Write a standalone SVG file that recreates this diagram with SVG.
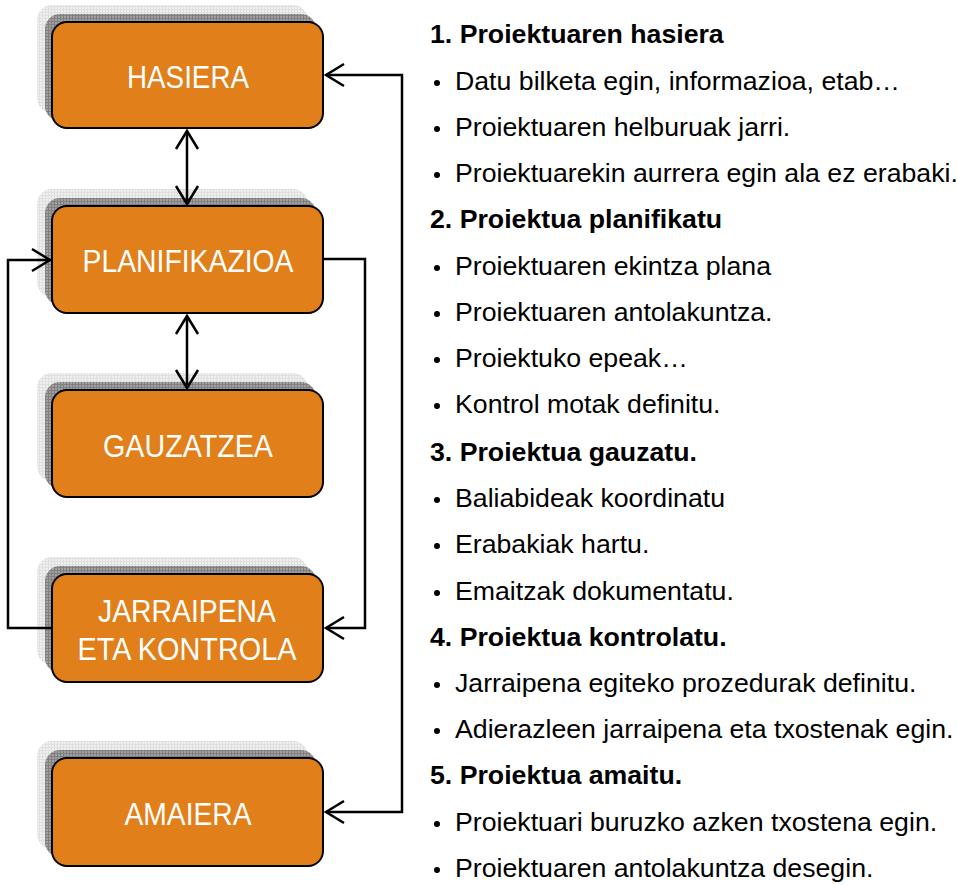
<svg xmlns="http://www.w3.org/2000/svg" width="957" height="885" viewBox="0 0 957 885">
<defs>
<pattern id="gridDark" width="3" height="3" patternUnits="userSpaceOnUse">
<rect width="3" height="3" fill="#a0a0a0"/>
<path d="M0,0.5H3M0.5,0V3" stroke="#808080" stroke-width="1"/>
</pattern>
<pattern id="gridLight" width="3" height="3" patternUnits="userSpaceOnUse">
<rect width="3" height="3" fill="#efefef"/>
<path d="M0,0.5H3M0.5,0V3" stroke="#e0e0e0" stroke-width="1"/>
</pattern>
<marker id="arr" markerUnits="userSpaceOnUse" viewBox="-20 -12 22 24" refX="0" refY="0" markerWidth="22" markerHeight="24" orient="auto-start-reverse" overflow="visible">
<path d="M-18,-11 L0,0 L-18,11" fill="none" stroke="#000" stroke-width="2.5"/>
</marker>
</defs>
<style>
.sh2{fill:url(#gridLight);}
.sh1{fill:url(#gridDark);}
.box{fill:#e17f1a;stroke:#000;stroke-width:2;}
.lbl{font-family:"Liberation Sans Narrow","Arial Narrow","Liberation Sans",Arial,sans-serif;font-size:32px;fill:#fff;text-anchor:middle;}
.con{fill:none;stroke:#000;stroke-width:2.5;}
.h{font-family:"Liberation Sans",Arial,sans-serif;font-size:26.7px;font-weight:bold;fill:#000;}
.b{font-family:"Liberation Sans",Arial,sans-serif;font-size:26.7px;fill:#000;}
.dot{fill:#000;}
</style>
<rect width="957" height="885" fill="#fff"/>

<g id="hasiera">
<rect class="sh2" x="37" y="5" width="271" height="108" rx="15"/>
<rect class="sh1" x="45" y="14" width="271" height="107" rx="15"/>
<rect class="box" x="52" y="22" width="271" height="106" rx="15"/>
<text class="lbl" x="188" y="88" textLength="122" lengthAdjust="spacingAndGlyphs">HASIERA</text>
</g>

<g id="planifikazioa">
<rect class="sh2" x="37" y="189" width="271" height="108" rx="15"/>
<rect class="sh1" x="45" y="198" width="271" height="107" rx="15"/>
<rect class="box" x="52" y="206" width="271" height="107" rx="15"/>
<text class="lbl" x="188" y="272" textLength="211" lengthAdjust="spacingAndGlyphs">PLANIFIKAZIOA</text>
</g>

<g id="gauzatzea">
<rect class="sh2" x="37" y="373" width="271" height="108" rx="15"/>
<rect class="sh1" x="45" y="382" width="271" height="107" rx="15"/>
<rect class="box" x="52" y="390" width="271" height="107" rx="15"/>
<text class="lbl" x="188" y="457" textLength="170" lengthAdjust="spacingAndGlyphs">GAUZATZEA</text>
</g>

<g id="jarraipena">
<rect class="sh2" x="37" y="557" width="271" height="108" rx="15"/>
<rect class="sh1" x="45" y="566" width="271" height="107" rx="15"/>
<rect class="box" x="52" y="574" width="271" height="108" rx="15"/>
<text class="lbl" x="187" y="622" textLength="178" lengthAdjust="spacingAndGlyphs">JARRAIPENA</text>
<text class="lbl" x="187" y="660" textLength="219" lengthAdjust="spacingAndGlyphs">ETA KONTROLA</text>
</g>

<g id="amaiera">
<rect class="sh2" x="37" y="741" width="271" height="108" rx="15"/>
<rect class="sh1" x="45" y="750" width="271" height="107" rx="15"/>
<rect class="box" x="52" y="758" width="271" height="108" rx="15"/>
<text class="lbl" x="188" y="825" textLength="127" lengthAdjust="spacingAndGlyphs">AMAIERA</text>
</g>

<g id="connectors">
<line class="con" x1="187" y1="131" x2="187" y2="204" marker-start="url(#arr)" marker-end="url(#arr)"/>
<line class="con" x1="187" y1="316" x2="187" y2="388" marker-start="url(#arr)" marker-end="url(#arr)"/>
<path class="con" d="M52,628 H8 V260 H50" marker-end="url(#arr)"/>
<path class="con" d="M323,259 H365 V628 H326" marker-end="url(#arr)"/>
<path class="con" d="M326,75 H402 V812 H326" marker-start="url(#arr)" marker-end="url(#arr)"/>
</g>

<g id="text-list">
<text class="h" x="430" y="43">1. Proiektuaren hasiera</text>
<circle class="dot" cx="437" cy="83" r="3"/><text class="b" x="455" y="90">Datu bilketa egin, informazioa, etab…</text>
<circle class="dot" cx="437" cy="129" r="3"/><text class="b" x="455" y="136">Proiektuaren helburuak jarri.</text>
<circle class="dot" cx="437" cy="175" r="3"/><text class="b" x="455" y="182">Proiektuarekin aurrera egin ala ez erabaki.</text>
<text class="h" x="430" y="228">2. Proiektua planifikatu</text>
<circle class="dot" cx="437" cy="268" r="3"/><text class="b" x="455" y="275">Proiektuaren ekintza plana</text>
<circle class="dot" cx="437" cy="314" r="3"/><text class="b" x="455" y="321">Proiektuaren antolakuntza.</text>
<circle class="dot" cx="437" cy="360" r="3"/><text class="b" x="455" y="367">Proiektuko epeak…</text>
<circle class="dot" cx="437" cy="406" r="3"/><text class="b" x="455" y="413">Kontrol motak definitu.</text>
<text class="h" x="430" y="461">3. Proiektua gauzatu.</text>
<circle class="dot" cx="437" cy="500" r="3"/><text class="b" x="455" y="507">Baliabideak koordinatu</text>
<circle class="dot" cx="437" cy="546" r="3"/><text class="b" x="455" y="553">Erabakiak hartu.</text>
<circle class="dot" cx="437" cy="593" r="3"/><text class="b" x="455" y="600">Emaitzak dokumentatu.</text>
<text class="h" x="430" y="646">4. Proiektua kontrolatu.</text>
<circle class="dot" cx="437" cy="685" r="3"/><text class="b" x="455" y="692">Jarraipena egiteko prozedurak definitu.</text>
<circle class="dot" cx="437" cy="731" r="3"/><text class="b" x="455" y="738">Adierazleen jarraipena eta txostenak egin.</text>
<text class="h" x="430" y="784">5. Proiektua amaitu.</text>
<circle class="dot" cx="437" cy="824" r="3"/><text class="b" x="455" y="831">Proiektuari buruzko azken txostena egin.</text>
<circle class="dot" cx="437" cy="870" r="3"/><text class="b" x="455" y="877">Proiektuaren antolakuntza desegin.</text>
</g>
</svg>
